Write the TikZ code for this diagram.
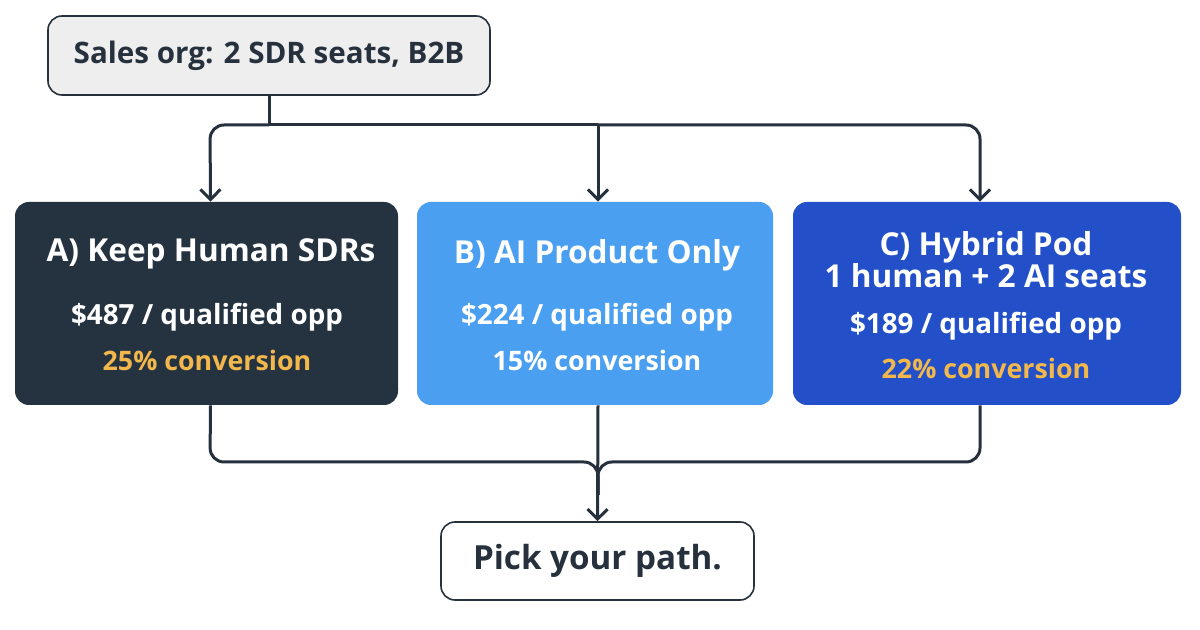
\documentclass[tikz,border=0pt]{standalone}
\usepackage{fontspec}
\setmainfont{Open Sans}
\usetikzlibrary{arrows.meta}
\definecolor{ink}{HTML}{26313D}
\definecolor{topfill}{HTML}{EEEEEE}
\definecolor{boxA}{HTML}{253341}
\definecolor{boxB}{HTML}{4A9FF0}
\definecolor{boxC}{HTML}{2350C8}
\definecolor{gold}{HTML}{F2B84B}
\tikzset{
  conn/.style={draw=ink, line width=1.5pt, rounded corners=7pt},
  arr/.style={conn, -{Straight Barb[length=5pt,width=10pt,line width=1.5pt]}},
  lightbox/.style={draw=ink, line width=0.8pt, rounded corners=7pt, fill=topfill},
  whitebox/.style={draw=ink, line width=0.8pt, rounded corners=7pt, fill=white},
  optbox/.style={rounded corners=7pt, minimum height=101.5pt, inner sep=0pt},
  ttl/.style={text=white, font=\fontsize{15.8}{18}\selectfont\bfseries, align=center, inner sep=0pt},
  body/.style={text=white, font=\fontsize{13.9}{16}\selectfont\bfseries, inner sep=0pt},
  conv/.style={text=gold, font=\fontsize{13.4}{16}\selectfont\bfseries, inner sep=0pt},
}
\begin{document}
\begin{tikzpicture}[x=0.5pt, y=-0.5pt]
\useasboundingbox[fill=white] (0,0) rectangle (1200,630);
% top box
\node[lightbox, minimum width=221pt, minimum height=39.5pt, inner sep=0pt,
      text=ink, font=\fontsize{14.8}{17}\selectfont\bfseries] (top) at (269,55.5) {Sales org: 2 SDR seats, B2B};
% option boxes
\node[optbox, fill=boxA, minimum width=191.5pt] (A) at (206.5,303.5) {};
\node[optbox, fill=boxB, minimum width=178pt] (B) at (595,303.5) {};
\node[optbox, fill=boxC, minimum width=194pt] (C) at (987,303.5) {};
% texts A
\node[ttl] (aT) at (211,254) {A) Keep Human SDRs};
\node[body] (aP) at (207,317) {\$487 / qualified opp};
\node[conv] (aC) at (207,360) {25\% conversion};
% texts B
\node[ttl] (bT) at (597,255) {B) AI Product Only};
\node[body] (bP) at (597,317) {\$224 / qualified opp};
\node[conv, text=white] (bC) at (597,360) {15\% conversion};
% texts C
\node[ttl] (cT) at (986,260) {C) Hybrid Pod\\[-2pt]1 human + 2 AI seats};
\node[body] (cP) at (986,326) {\$189 / qualified opp};
\node[conv] (cC) at (986,368) {22\% conversion};
% bottom box
\node[whitebox, minimum width=156.5pt, minimum height=39pt, inner sep=0pt,
      text=ink, font=\fontsize{16.6}{19}\selectfont\bfseries] (end) at (597.5,561) {Pick your path.};
% split coordinates
\coordinate (split) at (269,125);
\coordinate (midtop) at (598,125);
\coordinate (merge) at (598,462);
% top connectors
\draw[conn] (top.south) -- (split);
\draw[arr] (split) -- (210,125) -- ([xshift=2pt]A.north);
\draw[conn] (split) -- (midtop);
\draw[arr] (midtop) -- ([xshift=1.5pt]B.north);
\draw[arr] (midtop) -- (980,125) -- ([xshift=-3.5pt]C.north);
% bottom connectors
\draw[conn] ([xshift=2pt]A.south) -- (210,462) -- (merge) -- (598,495);
\draw[conn] ([xshift=-3.5pt]C.south) -- (980,462) -- (merge) -- (598,495);
\draw[arr] ([xshift=1.5pt]B.south) -- (end.north);
\end{tikzpicture}
\end{document}
